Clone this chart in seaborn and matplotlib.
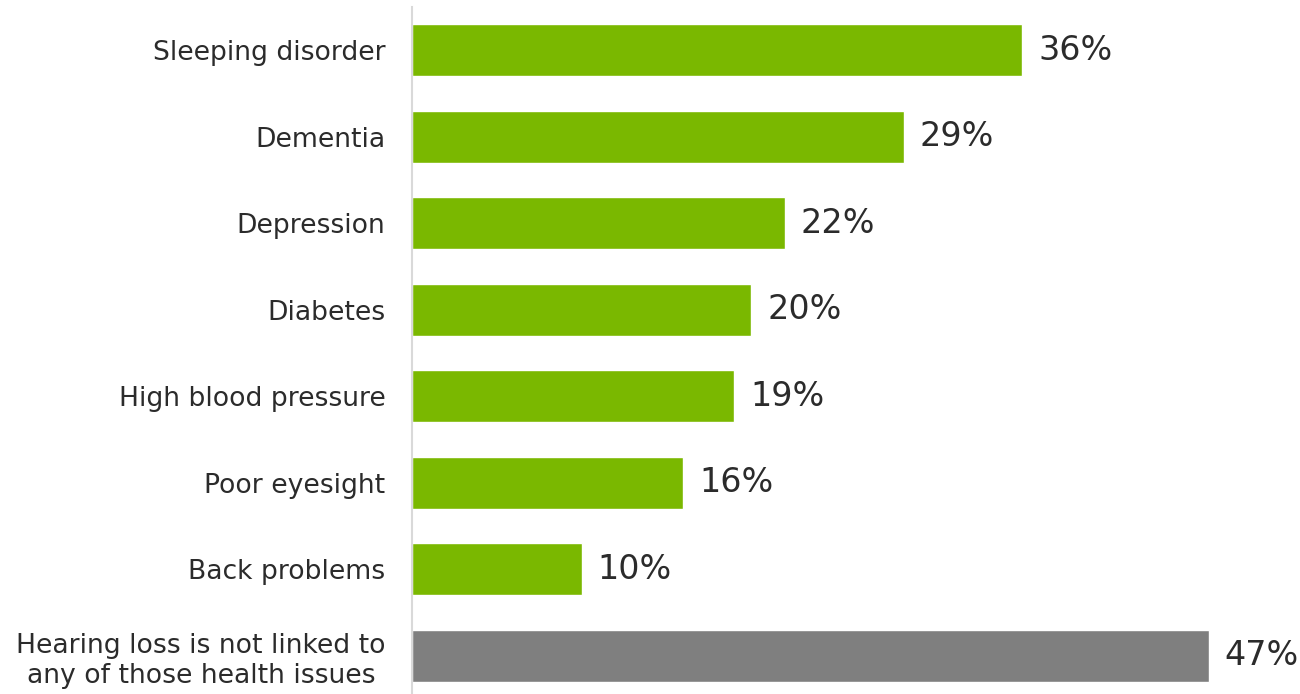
import matplotlib
matplotlib.use("Agg")
import matplotlib.pyplot as plt
import seaborn as sns
import pandas as pd

# Health issues associated with hearing loss (share of respondents, %)
categories = [
    "Sleeping disorder",
    "Dementia",
    "Depression",
    "Diabetes",
    "High blood pressure",
    "Poor eyesight",
    "Back problems",
    "Hearing loss is not linked to\nany of those health issues",
]
values = [36, 29, 22, 20, 19, 16, 10, 47]
value_labels = ["36%", "29%", "22%", "20%", "19%", "16%", "10%", "47%"]
bar_colors = ["#7ab800"] * 7 + ["#7f7f7f"]

df = pd.DataFrame({"issue": categories, "share": values})

sns.set_theme(style="white")
plt.rcParams["font.family"] = ["DejaVu Sans"]

fig = plt.figure(figsize=(13, 6.94), dpi=100)
ax = fig.add_axes([412 / 1300, 0.0, 1 - 412 / 1300 - 0.005, 1 - 7 / 694])

sns.barplot(
    data=df, x="share", y="issue", hue="issue", palette=bar_colors,
    order=categories, hue_order=categories, legend=False,
    width=0.6, saturation=1, ax=ax,
)

for patch, lbl in zip(ax.patches, value_labels):
    ax.annotate(
        lbl,
        xy=(patch.get_width(), patch.get_y() + patch.get_height() / 2),
        xytext=(11.5, 0), textcoords="offset points",
        ha="left", va="center", fontsize=24, color="#2b2b2b",
    )

ax.set_xlim(0, 52)
ax.set_ylim(7.44, -0.5)
ax.set_xlabel("")
ax.set_ylabel("")
ax.set_xticks([])
ax.tick_params(axis="y", length=0, pad=19, labelsize=19.2, labelcolor="#2b2b2b")
for t in ax.get_yticklabels():
    t.set_multialignment("center")

for side in ["top", "right", "bottom"]:
    ax.spines[side].set_visible(False)
ax.spines["left"].set_color("#d9d9d9")
ax.spines["left"].set_linewidth(1.5)

fig.savefig("out.png", dpi=100)
